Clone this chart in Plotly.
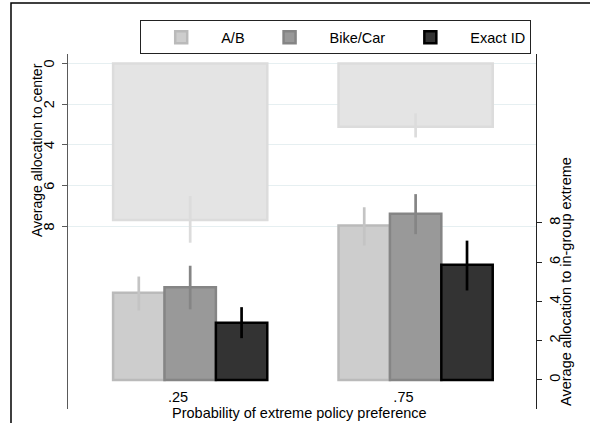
import plotly.graph_objects as go

# ---- data ----
group_pos = [0.25, 0.75]
group_labels = [".25", ".75"]

series_names = ["A/B", "Bike/Car", "Exact ID"]

ab_mean = [4.45, 7.87]
ab_upper = [5.27, 8.80]
ab_lower = [3.54, 6.85]

bike_mean = [4.73, 8.47]
bike_upper = [5.82, 9.47]
bike_lower = [3.60, 7.43]

exact_mean = [2.92, 5.87]
exact_upper = [3.71, 7.10]
exact_lower = [2.13, 4.56]

center_mean = [7.68, 3.10]
center_upper = [8.79, 3.63]
center_lower = [6.50, 2.45]

left_ticks = [0, 2, 4, 6, 8]
right_ticks = [0, 2, 4, 6, 8]

# ---- styles ----
FONT = "Liberation Sans, Arial, Helvetica, sans-serif"
FS = 14.5
bar_w = 0.114
first_off = -0.144

styles = [
    dict(fill="#cdcdcd", line="#bababa", err="#c4c4c4"),
    dict(fill="#999999", line="#858585", err="#858585"),
    dict(fill="#333333", line="#000000", err="#000000"),
]

fig = go.Figure()

# center allocation bars (left, reversed axis)
fig.add_trace(go.Bar(
    x=group_pos, y=center_mean, yaxis="y",
    width=3 * bar_w, offset=first_off,
    marker=dict(color="#e4e4e4", line=dict(color="#dcdcdc", width=2.5)),
    error_y=dict(type="data", symmetric=False,
                 array=[u - m for u, m in zip(center_upper, center_mean)],
                 arrayminus=[m - l for m, l in zip(center_mean, center_lower)],
                 color="#dcdcdc", thickness=2.7, width=0),
    showlegend=False, hoverinfo="skip",
))

means = [ab_mean, bike_mean, exact_mean]
uppers = [ab_upper, bike_upper, exact_upper]
lowers = [ab_lower, bike_lower, exact_lower]

for i, name in enumerate(series_names):
    st = styles[i]
    fig.add_trace(go.Bar(
        x=group_pos, y=means[i], yaxis="y2", name=name,
        width=bar_w, offset=first_off + i * bar_w,
        marker=dict(color=st["fill"], line=dict(color=st["line"], width=2.5)),
        error_y=dict(type="data", symmetric=False,
                     array=[u - m for u, m in zip(uppers[i], means[i])],
                     arrayminus=[m - l for m, l in zip(means[i], lowers[i])],
                     color=st["err"], thickness=2.7, width=0),
    ))

# left-axis tick labels, placed on the left axis scale
left_tick_annots = [
    dict(text=str(v), xref="paper", x=-0.0406, yref="y", y=v,
         textangle=-90, showarrow=False, xanchor="center", yanchor="middle",
         font=dict(size=FS, color="black"))
    for v in left_ticks
]

fig.update_layout(
    width=590, height=423,
    margin=dict(l=68, r=54, t=54, b=14),
    paper_bgcolor="white", plot_bgcolor="white",
    font=dict(family=FONT, size=FS, color="black"),
    barmode="overlay",
    xaxis=dict(
        range=[0.006, 1.044], tickvals=group_pos, ticktext=group_labels,
        showgrid=False, zeroline=False, showline=False, ticks="",
        anchor="free", position=0.062,
        tickfont=dict(size=FS, color="black"),
    ),
    yaxis=dict(
        range=[16.94, -0.46], tickvals=left_ticks, showticklabels=False,
        showgrid=True, gridcolor="#e6eff1", gridwidth=1,
        zeroline=False, showline=True, linecolor="#5a5a5a", linewidth=1.3,
        ticks="outside", ticklen=5, tickcolor="#5a5a5a", tickwidth=1.3,
    ),
    yaxis2=dict(
        range=[-1.48, 16.61], tickvals=right_ticks,
        overlaying="y", side="right", anchor="x",
        showgrid=False, zeroline=False, showline=True,
        linecolor="#222222", linewidth=1.3,
        ticks="outside", ticklen=5, tickcolor="#222222", tickwidth=1.3,
        tickangle=-90, tickfont=dict(size=FS, color="black"),
    ),
    legend=dict(
        orientation="h", x=0.572, xanchor="center", y=1.095, yanchor="top",
        bordercolor="#222222", borderwidth=1, bgcolor="white",
        font=dict(size=FS, color="black"), itemwidth=70,
        traceorder="normal",
    ),
    annotations=left_tick_annots + [
        dict(text="Average allocation to center", xref="paper", yref="paper",
             x=-0.0662, y=0.7296, textangle=-90, showarrow=False,
             xanchor="center", yanchor="middle", font=dict(size=14)),
        dict(text="Average allocation to in-group extreme", xref="paper", yref="paper",
             x=1.064, y=0.3606, textangle=-90, showarrow=False,
             xanchor="center", yanchor="middle", font=dict(size=FS)),
        dict(text="Probability of extreme policy preference", xref="paper", yref="paper",
             x=0.4936, y=-0.0394, showarrow=False,
             xanchor="center", yanchor="bottom", font=dict(size=FS)),
    ],
    shapes=[
        dict(type="rect", xref="paper", yref="paper",
             x0=-0.1218, y0=-0.5, x1=1.5, y1=1.1437,
             line=dict(color="black", width=1.5), fillcolor="rgba(0,0,0,0)",
             layer="below"),
    ],
)

fig.write_html("out.html", config={"displayModeBar": False},
               post_script="document.body.style.margin='0';document.body.style.overflow='hidden';")
